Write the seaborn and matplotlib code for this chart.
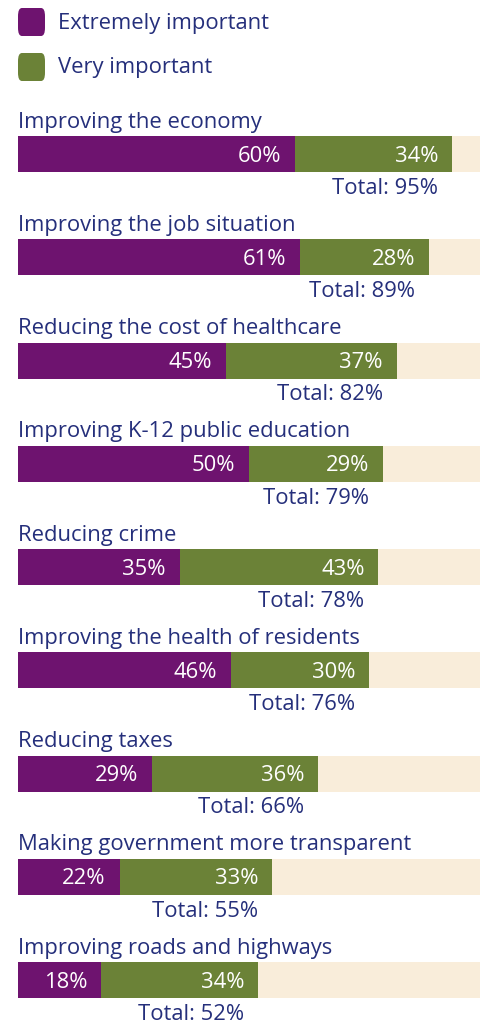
import matplotlib
matplotlib.use("Agg")
import matplotlib.pyplot as plt
import seaborn as sns
import pandas as pd
from matplotlib.patches import FancyBboxPatch

categories = [
    "Improving the economy",
    "Improving the job situation",
    "Reducing the cost of healthcare",
    "Improving K-12 public education",
    "Reducing crime",
    "Improving the health of residents",
    "Reducing taxes",
    "Making government more transparent",
    "Improving roads and highways",
]
extremely = [60, 61, 45, 50, 35, 46, 29, 22, 18]
very = [34, 28, 37, 29, 43, 30, 36, 33, 34]
totals = [95, 89, 82, 79, 78, 76, 66, 55, 52]
series_names = ["Extremely important", "Very important"]

PURPLE = "#6E136F"
GREEN = "#6B8237"
BEIGE = "#F9EDDA"
NAVY = "#252F7B"

sns.set_theme(style="white")
plt.rcParams["font.family"] = ["Open Sans", "DejaVu Sans"]

df = pd.DataFrame({
    "cat": categories,
    "ext": extremely,
    "stack": [e + v for e, v in zip(extremely, very)],
    "full": [100] * len(categories),
})

W, H = 486, 1024
fig = plt.figure(figsize=(W / 100, H / 100), dpi=100)
ax = fig.add_axes([18 / W, 0, 462 / W, 1])

bw = 36 / 103.25
for col, c in (("full", BEIGE), ("stack", GREEN), ("ext", PURPLE)):
    sns.barplot(data=df, y="cat", x=col, color=c, width=bw, ax=ax,
                saturation=1, orient="h", edgecolor="none", linewidth=0)

ax.set_xlim(0, 100)
top = -154 / 103.25
bottom = (1024 - 154) / 103.25
ax.set_ylim(bottom, top)
ax.axis("off")

fs = 15.8
pad = 3.0
for i, cat in enumerate(categories):
    ax.text(0, i - 0.255, cat, ha="left", va="baseline", fontsize=fs, color=NAVY)
    e = extremely[i]
    s = e + very[i]
    ax.text(e - pad, i + 0.075, f"{e}%", ha="right", va="baseline", fontsize=fs, color="white")
    ax.text(s - pad, i + 0.075, f"{very[i]}%", ha="right", va="baseline", fontsize=fs, color="white")
    ax.text(s - pad, i + 0.385, f"Total: {totals[i]}%", ha="right", va="baseline", fontsize=fs, color=NAVY)

# legend
leg_colors = [PURPLE, GREEN]
for j, (name, c) in enumerate(zip(series_names, leg_colors)):
    y0 = 1 - (8 + j * 45) / H
    box = FancyBboxPatch((18 / W, y0 - 28 / H), 27 / W, 28 / H,
                         boxstyle="round,pad=0,rounding_size=0.008",
                         transform=fig.transFigure, facecolor=c, edgecolor="none")
    fig.patches.append(box)
    fig.text(58 / W, y0 - 15 / H, name, ha="left", va="center", fontsize=fs, color=NAVY)

fig.savefig("out.png", dpi=100)
